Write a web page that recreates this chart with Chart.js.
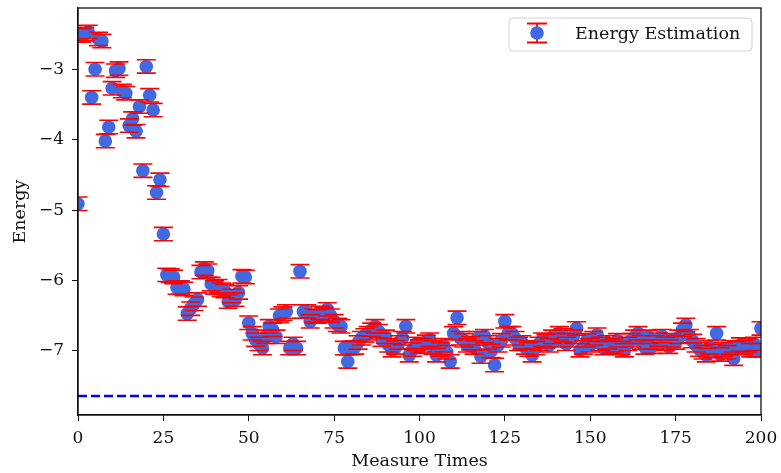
<!DOCTYPE html>
<html lang="en">
<head>
  <meta charset="UTF-8">
  <title>Energy Estimation</title>
  <script src="https://cdn.jsdelivr.net/npm/chart.js@4.4.0/dist/chart.umd.min.js"></script>
  <style>
    body { margin: 0; background: #fff; }
    .chart-container { position: relative; width: 781px; height: 473px; }
  </style>
</head>
<body>
  <div class="chart-container">
    <canvas id="energyChart"></canvas>
  </div>

  <script>
    // measure index 0..200
    const measureTimes = Array.from({ length: 201 }, (_, i) => i);

    // energy estimates
    const energies = [
      -4.91, -2.52, -2.50, -2.47, -3.40, -3.00, -2.57, -2.60, -4.02, -3.82,
      -3.27, -3.02, -2.99, -3.31, -3.34, -3.80, -3.70, -3.88, -3.53, -4.44,
      -2.96, -3.37, -3.58, -4.75, -4.57, -5.34, -5.92, -5.93, -5.95, -6.10,
      -6.10, -6.12, -6.47, -6.40, -6.33, -6.27, -5.88, -5.83, -5.86, -6.05,
      -6.10, -6.08, -6.13, -6.15, -6.30, -6.22, -6.27, -6.17, -5.94, -5.95,
      -6.60, -6.75, -6.84, -6.90, -6.96, -6.80, -6.65, -6.70, -6.80, -6.50,
      -6.47, -6.44, -6.96, -6.90, -6.96, -5.87, -6.44, -6.44, -6.58, -6.50,
      -6.51, -6.46, -6.48, -6.41, -6.50, -6.58, -6.63, -6.65, -6.96, -7.15,
      -6.96, -6.95, -6.88, -6.82, -6.78, -6.75, -6.70, -6.65, -6.72, -6.84,
      -6.80, -6.92, -6.99, -6.95, -6.88, -6.82, -6.65, -7.06, -6.98, -6.90,
      -6.94, -6.92, -6.87, -6.84, -6.95, -7.06, -6.98, -6.92, -7.02, -7.15,
      -6.75, -6.53, -6.82, -6.85, -6.92, -6.89, -6.95, -6.82, -7.08, -6.79,
      -6.88, -7.00, -7.20, -6.92, -6.85, -6.58, -6.75, -6.75, -6.82, -6.90,
      -6.88, -6.95, -6.98, -7.06, -6.96, -6.90, -6.84, -6.86, -6.92, -6.80,
      -6.85, -6.75, -6.78, -6.90, -6.85, -6.80, -6.68, -6.99, -6.95, -6.85,
      -6.92, -6.82, -6.77, -6.90, -6.96, -6.88, -6.94, -6.92, -6.85, -6.96,
      -6.99, -6.90, -6.85, -6.80, -6.75, -6.88, -6.95, -6.80, -6.94, -6.88,
      -6.84, -6.79, -6.90, -6.94, -6.85, -6.88, -6.80, -6.70, -6.63, -6.79,
      -6.86, -6.92, -6.98, -7.02, -7.06, -6.95, -7.00, -6.75, -7.05, -6.98,
      -7.02, -6.95, -7.11, -6.96, -6.91, -6.95, -6.92, -6.99, -6.90, -6.99,
      -6.68
    ];

    const errorHalf = 0.095;        // half width of each error bar
    const referenceEnergy = -7.64;  // dashed reference line
    const xTicks = [0, 25, 50, 75, 100, 125, 150, 175, 200];
    const yTicks = [-7, -6, -5, -4, -3];
    const legendLabel = 'Energy Estimation';

    const blue = '#4169e1';
    const red = '#ff0000';
    const FONT = '"DejaVu Serif", "Liberation Serif", serif';

    Chart.defaults.font.family = FONT;
    Chart.defaults.font.size = 17;
    Chart.defaults.color = '#111';

    const points = measureTimes.map((t, i) => ({ x: t, y: energies[i] }));

    // red caps above and below each marker
    const errorBars = {
      id: 'errorBars',
      afterDatasetsDraw(chart) {
        const { ctx, chartArea, scales } = chart;
        const meta = chart.getDatasetMeta(1);
        ctx.save();
        ctx.beginPath();
        ctx.rect(chartArea.left, chartArea.top, chartArea.right - chartArea.left, chartArea.bottom - chartArea.top);
        ctx.clip();
        ctx.strokeStyle = red;
        ctx.lineWidth = 1.6;
        meta.data.forEach((pt, i) => {
          const top = scales.y.getPixelForValue(energies[i] + errorHalf);
          const bot = scales.y.getPixelForValue(energies[i] - errorHalf);
          ctx.beginPath();
          ctx.moveTo(pt.x - 9.5, top); ctx.lineTo(pt.x + 9.5, top);
          ctx.moveTo(pt.x - 9.5, bot); ctx.lineTo(pt.x + 9.5, bot);
          ctx.stroke();
        });
        ctx.restore();
      }
    };

    // full box round the axes plus the legend in the upper right
    const frameAndLegend = {
      id: 'frameAndLegend',
      afterDraw(chart) {
        const { ctx, chartArea } = chart;
        ctx.save();
        ctx.strokeStyle = '#111';
        ctx.lineWidth = 1.3;
        ctx.strokeRect(chartArea.left, chartArea.top, chartArea.right - chartArea.left, chartArea.bottom - chartArea.top);

        const bw = 243, bh = 33;
        const bx = chartArea.right - 9 - bw;
        const by = chartArea.top + 10;
        ctx.beginPath();
        ctx.roundRect(bx, by, bw, bh, 4);
        ctx.fillStyle = 'rgba(255,255,255,0.8)';
        ctx.fill();
        ctx.strokeStyle = '#d0d0d0';
        ctx.lineWidth = 1;
        ctx.stroke();

        const mx = bx + 28, my = by + 15;
        ctx.strokeStyle = red;
        ctx.lineWidth = 1.8;
        ctx.beginPath();
        ctx.moveTo(mx, my - 9.5); ctx.lineTo(mx, my + 9.5);
        ctx.moveTo(mx - 10, my - 9.5); ctx.lineTo(mx + 10, my - 9.5);
        ctx.moveTo(mx - 10, my + 9.5); ctx.lineTo(mx + 10, my + 9.5);
        ctx.stroke();
        ctx.fillStyle = blue;
        ctx.beginPath();
        ctx.arc(mx, my, 6.8, 0, Math.PI * 2);
        ctx.fill();

        ctx.fillStyle = '#111';
        ctx.font = '17.5px ' + FONT;
        ctx.textBaseline = 'middle';
        ctx.fillText(legendLabel, bx + 66, my + 1);
        ctx.restore();
      }
    };

    const minus = v => String(v).replace('-', '\u2212');

    new Chart(document.getElementById('energyChart'), {
      type: 'scatter',
      data: {
        datasets: [
          {
            type: 'line',
            label: 'reference',
            data: [{ x: xTicks[0], y: referenceEnergy }, { x: xTicks[xTicks.length - 1], y: referenceEnergy }],
            borderColor: '#0000ff',
            borderWidth: 2.5,
            borderDash: [9, 4],
            pointRadius: 0,
            clip: 0
          },
          {
            label: legendLabel,
            data: points,
            backgroundColor: blue,
            borderWidth: 0,
            pointRadius: 6.8,
            pointHoverRadius: 6.8,
            clip: 0
          }
        ]
      },
      options: {
        responsive: true,
        maintainAspectRatio: false,
        animation: false,
        layout: { padding: { top: 8, right: 20, left: 0, bottom: 0 } },
        plugins: { legend: { display: false }, tooltip: { enabled: false } },
        scales: {
          x: {
            type: 'linear',
            min: 0,
            max: 200,
            afterBuildTicks: s => { s.ticks = xTicks.map(v => ({ value: v })); },
            afterFit: s => { s.height = 58; s.paddingLeft = 0; s.paddingRight = 0; },
            ticks: { padding: 7, maxRotation: 0, callback: v => minus(v) },
            grid: { display: true, drawOnChartArea: false, drawTicks: true, tickLength: 6, color: '#111' },
            border: { display: true, color: '#111', width: 1.3 },
            title: { display: true, text: 'Measure Times', font: { size: 17.5 }, padding: { top: 0, bottom: 1 } }
          },
          y: {
            type: 'linear',
            min: -7.91,
            max: -2.13,
            afterBuildTicks: s => { s.ticks = yTicks.map(v => ({ value: v })); },
            afterFit: s => { s.width = 78; s.paddingTop = 0; s.paddingBottom = 0; },
            ticks: { padding: 8, callback: v => minus(v) },
            grid: { display: true, drawOnChartArea: false, drawTicks: true, tickLength: 6, color: '#111' },
            border: { display: true, color: '#111', width: 1.3 },
            title: { display: true, text: 'Energy', font: { size: 17.5 }, padding: { top: 10, bottom: 0 } }
          }
        }
      },
      plugins: [errorBars, frameAndLegend]
    });
  </script>
</body>
</html>
